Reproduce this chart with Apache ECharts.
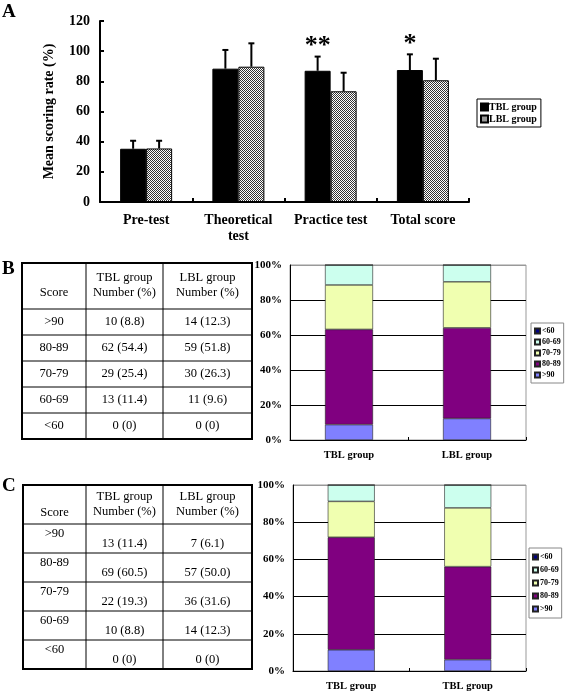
<!DOCTYPE html>
<html>
<head>
<meta charset="utf-8">
<script src="https://cdn.jsdelivr.net/npm/echarts@6/dist/echarts.min.js"></script>
<style>html,body{margin:0;padding:0;background:#fff}#c{width:567px;height:694px}</style>
</head>
<body>
<div id="c"></div>
<script>
// ---------- Panel A data ----------
const tests = ['Pre-test', 'Theoretical\ntest', 'Practice test', 'Total score'];
const tblMean = [35.3, 88.4, 87.0, 87.5];
const tblSD = [5.3, 12.4, 9.4, 10.4];
const lblMean = [35.5, 89.7, 73.4, 80.7];
const lblSD = [5.1, 15.5, 12.3, 14.3];
const sigMarks = ['', '', '**', '*'];
const yTicksA = [0, 20, 40, 60, 80, 100, 120];

// ---------- Panels B / C data ----------
const scoreBands = ['>90', '80-89', '70-79', '60-69', '<60'];
const legendBands = ['<60', '60-69', '70-79', '80-89', '>90'];
const groupsB = ['TBL group', 'LBL group'];
const groupsC = ['TBL group', 'TBL group'];
const bTBLn = [10, 62, 29, 13, 0];
const bTBLp = [8.8, 54.4, 25.4, 11.4, 0];
const bLBLn = [14, 59, 30, 11, 0];
const bLBLp = [12.3, 51.8, 26.3, 9.6, 0];
const cTBLn = [13, 69, 22, 10, 0];
const cTBLp = [11.4, 60.5, 19.3, 8.8, 0];
const cLBLn = [7, 57, 36, 14, 0];
const cLBLp = [6.1, 50.0, 31.6, 12.3, 0];
const tableHeader = ['Score', 'TBL group\nNumber (%)', 'LBL group\nNumber (%)'];

const bandColors = {'>90': '#8080ff', '80-89': '#800080', '70-79': '#f0ffb0', '60-69': '#ccffee', '<60': '#000080'};
const SERIF = '"Liberation Serif","Times New Roman",serif';

function makePattern() {
  const c = document.createElement('canvas');
  c.width = 4; c.height = 4;
  const g = c.getContext('2d');
  g.fillStyle = '#fff'; g.fillRect(0, 0, 4, 4);
  g.fillStyle = '#333';
  for (let y = 0; y < 4; y++) for (let x = 0; x < 4; x++) if ((x + y) % 2 === 0) g.fillRect(x, y, 1, 1);
  return c;
}
const hatch = {image: makePattern(), repeat: 'repeat'};

function fmt(n, p) { return n + ' (' + (p === 0 ? '0' : p.toFixed(1)) + ')'; }

function errRender(side) {
  return function (params, api) {
    const i = api.value(0), m = api.value(1), s = api.value(2);
    const base = api.coord([i, m]);
    const top = api.coord([i, m + s]);
    const x = base[0] + side * 13;
    const ch = [
      {type: 'line', shape: {x1: x, y1: base[1], x2: x, y2: top[1]}, style: {stroke: '#000', lineWidth: 2}},
      {type: 'line', shape: {x1: x - 3, y1: top[1], x2: x + 3, y2: top[1]}, style: {stroke: '#000', lineWidth: 2}}
    ];
    const t = sigMarks[params.dataIndex];
    if (side < 0 && t) {
      ch.push({type: 'text', style: {text: t, x: x, y: top[1] + 3, align: 'center', verticalAlign: 'bottom',
        font: 'bold 26px ' + SERIF, fill: '#000'}});
    }
    return {type: 'group', children: ch};
  };
}

// ---------- tables as graphic ----------
function buildTable(x0, cols, y0, headerH, rowH, nA, pA, nB, pB, style) {
  const els = [];
  const xR = cols[cols.length - 1];
  const yB = y0 + headerH + rowH * scoreBands.length;
  els.push({type: 'rect', shape: {x: x0, y: y0, width: xR - x0, height: yB - y0},
    style: {fill: '#fff', stroke: '#000', lineWidth: 2}});
  for (let k = 0; k < cols.length - 1; k++) {
    els.push({type: 'line', shape: {x1: cols[k], y1: y0, x2: cols[k], y2: yB}, style: {stroke: '#000', lineWidth: 1}});
  }
  for (let r = 0; r < scoreBands.length; r++) {
    const y = y0 + headerH + r * rowH;
    els.push({type: 'line', shape: {x1: x0, y1: y, x2: xR, y2: y}, style: {stroke: '#000', lineWidth: 1}});
  }
  const edges = [x0].concat(cols);
  const cx = k => (edges[k] + edges[k + 1]) / 2;
  const font = '12.5px ' + SERIF;
  els.push({type: 'text', style: {text: tableHeader[0], x: cx(0), y: y0 + style.scoreY, align: 'center', verticalAlign: 'middle', font: font, fill: '#000'}});
  for (let k = 1; k < 3; k++) {
    const lines = tableHeader[k].split('\n');
    els.push({type: 'text', style: {text: lines[0], x: cx(k), y: y0 + style.h1, align: 'center', verticalAlign: 'middle', font: font, fill: '#000'}});
    els.push({type: 'text', style: {text: lines[1], x: cx(k), y: y0 + style.h2, align: 'center', verticalAlign: 'middle', font: font, fill: '#000'}});
  }
  for (let r = 0; r < scoreBands.length; r++) {
    const yt = y0 + headerH + r * rowH;
    els.push({type: 'text', style: {text: scoreBands[r], x: cx(0), y: yt + style.labelY, align: 'center', verticalAlign: 'middle', font: font, fill: '#000'}});
    els.push({type: 'text', style: {text: fmt(nA[r], pA[r]), x: cx(1), y: yt + style.valY, align: 'center', verticalAlign: 'middle', font: font, fill: '#000'}});
    els.push({type: 'text', style: {text: fmt(nB[r], pB[r]), x: cx(2), y: yt + style.valY, align: 'center', verticalAlign: 'middle', font: font, fill: '#000'}});
  }
  return els;
}

const graphics = [
  {type: 'text', style: {text: 'A', x: 2, y: 3, font: 'bold 19px ' + SERIF, fill: '#000'}},
  {type: 'text', style: {text: 'B', x: 2, y: 260, font: 'bold 19px ' + SERIF, fill: '#000'}},
  {type: 'text', style: {text: 'C', x: 2, y: 477, font: 'bold 19px ' + SERIF, fill: '#000'}}
].concat(
  buildTable(22, [86, 163, 252], 263, 46, 26, bTBLn, bTBLp, bLBLn, bLBLp, {scoreY: 30, h1: 15, h2: 30, labelY: 13, valY: 13}),
  buildTable(23, [86, 163, 252], 485, 39, 29, cTBLn, cTBLp, cLBLn, cLBLp, {scoreY: 28, h1: 12, h2: 27, labelY: 10, valY: 20})
);

// ---------- stacked series B / C ----------
function stackSeries(axisIdx, stackName, pA, pB, barW) {
  return scoreBands.map((band, r) => ({
    name: band, type: 'bar', stack: stackName, xAxisIndex: axisIdx, yAxisIndex: axisIdx,
    barWidth: barW, data: [pA[r], pB[r]],
    itemStyle: {color: bandColors[band], borderColor: '#222', borderWidth: 0.6},
    emphasis: {disabled: true}
  }));
}

function pctAxes(gi) {
  return {
    x: {type: 'category', gridIndex: gi, data: gi === 1 ? groupsB : groupsC,
      axisLine: {lineStyle: {color: '#000', width: 1}},
      axisTick: {show: true, inside: true, length: 3, lineStyle: {color: '#000'}},
      axisLabel: {interval: 0, fontFamily: SERIF, fontWeight: 'bold', fontSize: 10.5, color: '#000', margin: 10}},
    y: {type: 'value', gridIndex: gi, min: 0, max: 100, interval: 20,
      axisLine: {show: true, lineStyle: {color: '#000', width: 1}},
      axisTick: {show: false},
      splitLine: {show: true, lineStyle: {color: ['#000', '#000', '#000', '#000', '#000', '#999'], width: 1}},
      axisLabel: {formatter: '{value}%', fontFamily: SERIF, fontWeight: 'bold', fontSize: 11, color: '#000', margin: 8}}
  };
}
const axB = pctAxes(1), axC = pctAxes(2);

const legendStyleBC = {
  orient: 'vertical', icon: 'rect', itemWidth: 5, itemHeight: 5, itemGap: 3,
  borderColor: '#888', borderWidth: 1, padding: [4, 3, 4, 3], backgroundColor: '#fff',
  textStyle: {fontFamily: SERIF, fontWeight: 'bold', fontSize: 8, color: '#000', padding: [0, 0, 0, -3]},
  data: legendBands, selectedMode: false
};

const option = {
  animation: false,
  backgroundColor: '#fff',
  grid: [
    {left: 100, right: 98, top: 21, bottom: 492},
    {left: 290, right: 41, top: 265, bottom: 254, show: true, borderColor: '#999', borderWidth: 1},
    {left: 293, right: 41, top: 485, bottom: 23, show: true, borderColor: '#999', borderWidth: 1}
  ],
  xAxis: [
    {type: 'category', gridIndex: 0, data: tests,
      axisLine: {lineStyle: {color: '#000', width: 2}},
      axisTick: {show: true, inside: true, length: 4, lineStyle: {color: '#000', width: 2}},
      axisLabel: {interval: 0, fontFamily: SERIF, fontWeight: 'bold', fontSize: 14, color: '#000', margin: 10, lineHeight: 16}},
    axB.x, axC.x
  ],
  yAxis: [
    {type: 'value', gridIndex: 0, min: 0, max: 120, interval: 20,
      name: 'Mean scoring rate (%)', nameLocation: 'middle', nameGap: 44,
      nameTextStyle: {fontFamily: SERIF, fontWeight: 'bold', fontSize: 14, color: '#000'},
      axisLine: {show: true, lineStyle: {color: '#000', width: 2}},
      axisTick: {show: true, inside: true, length: 4, lineStyle: {color: '#000', width: 2}},
      splitLine: {show: false},
      axisLabel: {fontFamily: SERIF, fontWeight: 'bold', fontSize: 14, color: '#000', margin: 10,
        formatter: v => (yTicksA.indexOf(v) >= 0 ? String(v) : '')}},
    axB.y, axC.y
  ],
  legend: [
    {orient: 'vertical', left: 477, top: 99, icon: 'rect', itemWidth: 7, itemHeight: 7, itemGap: 2,
      borderColor: '#000', borderWidth: 1, padding: [3, 4, 3, 3], selectedMode: false,
      textStyle: {fontFamily: SERIF, fontWeight: 'bold', fontSize: 10, color: '#000', padding: [0, 0, 0, -4]},
      data: ['TBL group', 'LBL group']},
    Object.assign({left: 531, top: 323}, legendStyleBC),
    Object.assign({left: 529, top: 548}, legendStyleBC, {itemGap: 5, padding: [5, 3, 5, 3]})
  ],
  graphic: graphics,
  series: [
    {name: 'TBL group', type: 'bar', xAxisIndex: 0, yAxisIndex: 0, barWidth: 26, barGap: '0%', data: tblMean,
      itemStyle: {color: '#000', borderColor: '#000', borderWidth: 1}, emphasis: {disabled: true}},
    {name: 'LBL group', type: 'bar', xAxisIndex: 0, yAxisIndex: 0, barWidth: 26, barGap: '0%', data: lblMean,
      itemStyle: {color: hatch, borderColor: '#000', borderWidth: 1}, emphasis: {disabled: true}},
    {name: 'errTBL', type: 'custom', xAxisIndex: 0, yAxisIndex: 0, clip: false,
      renderItem: errRender(-1), data: tests.map((t, i) => [i, tblMean[i], tblSD[i]]), z: 5},
    {name: 'errLBL', type: 'custom', xAxisIndex: 0, yAxisIndex: 0, clip: false,
      renderItem: errRender(1), data: tests.map((t, i) => [i, lblMean[i], lblSD[i]]), z: 5}
  ].concat(stackSeries(1, 'b', bTBLp, bLBLp, 48), stackSeries(2, 'c', cTBLp, cLBLp, 47))
};

const chart = echarts.init(document.getElementById('c'), null, {renderer: 'canvas'});
chart.setOption(option);
</script>
</body>
</html>
